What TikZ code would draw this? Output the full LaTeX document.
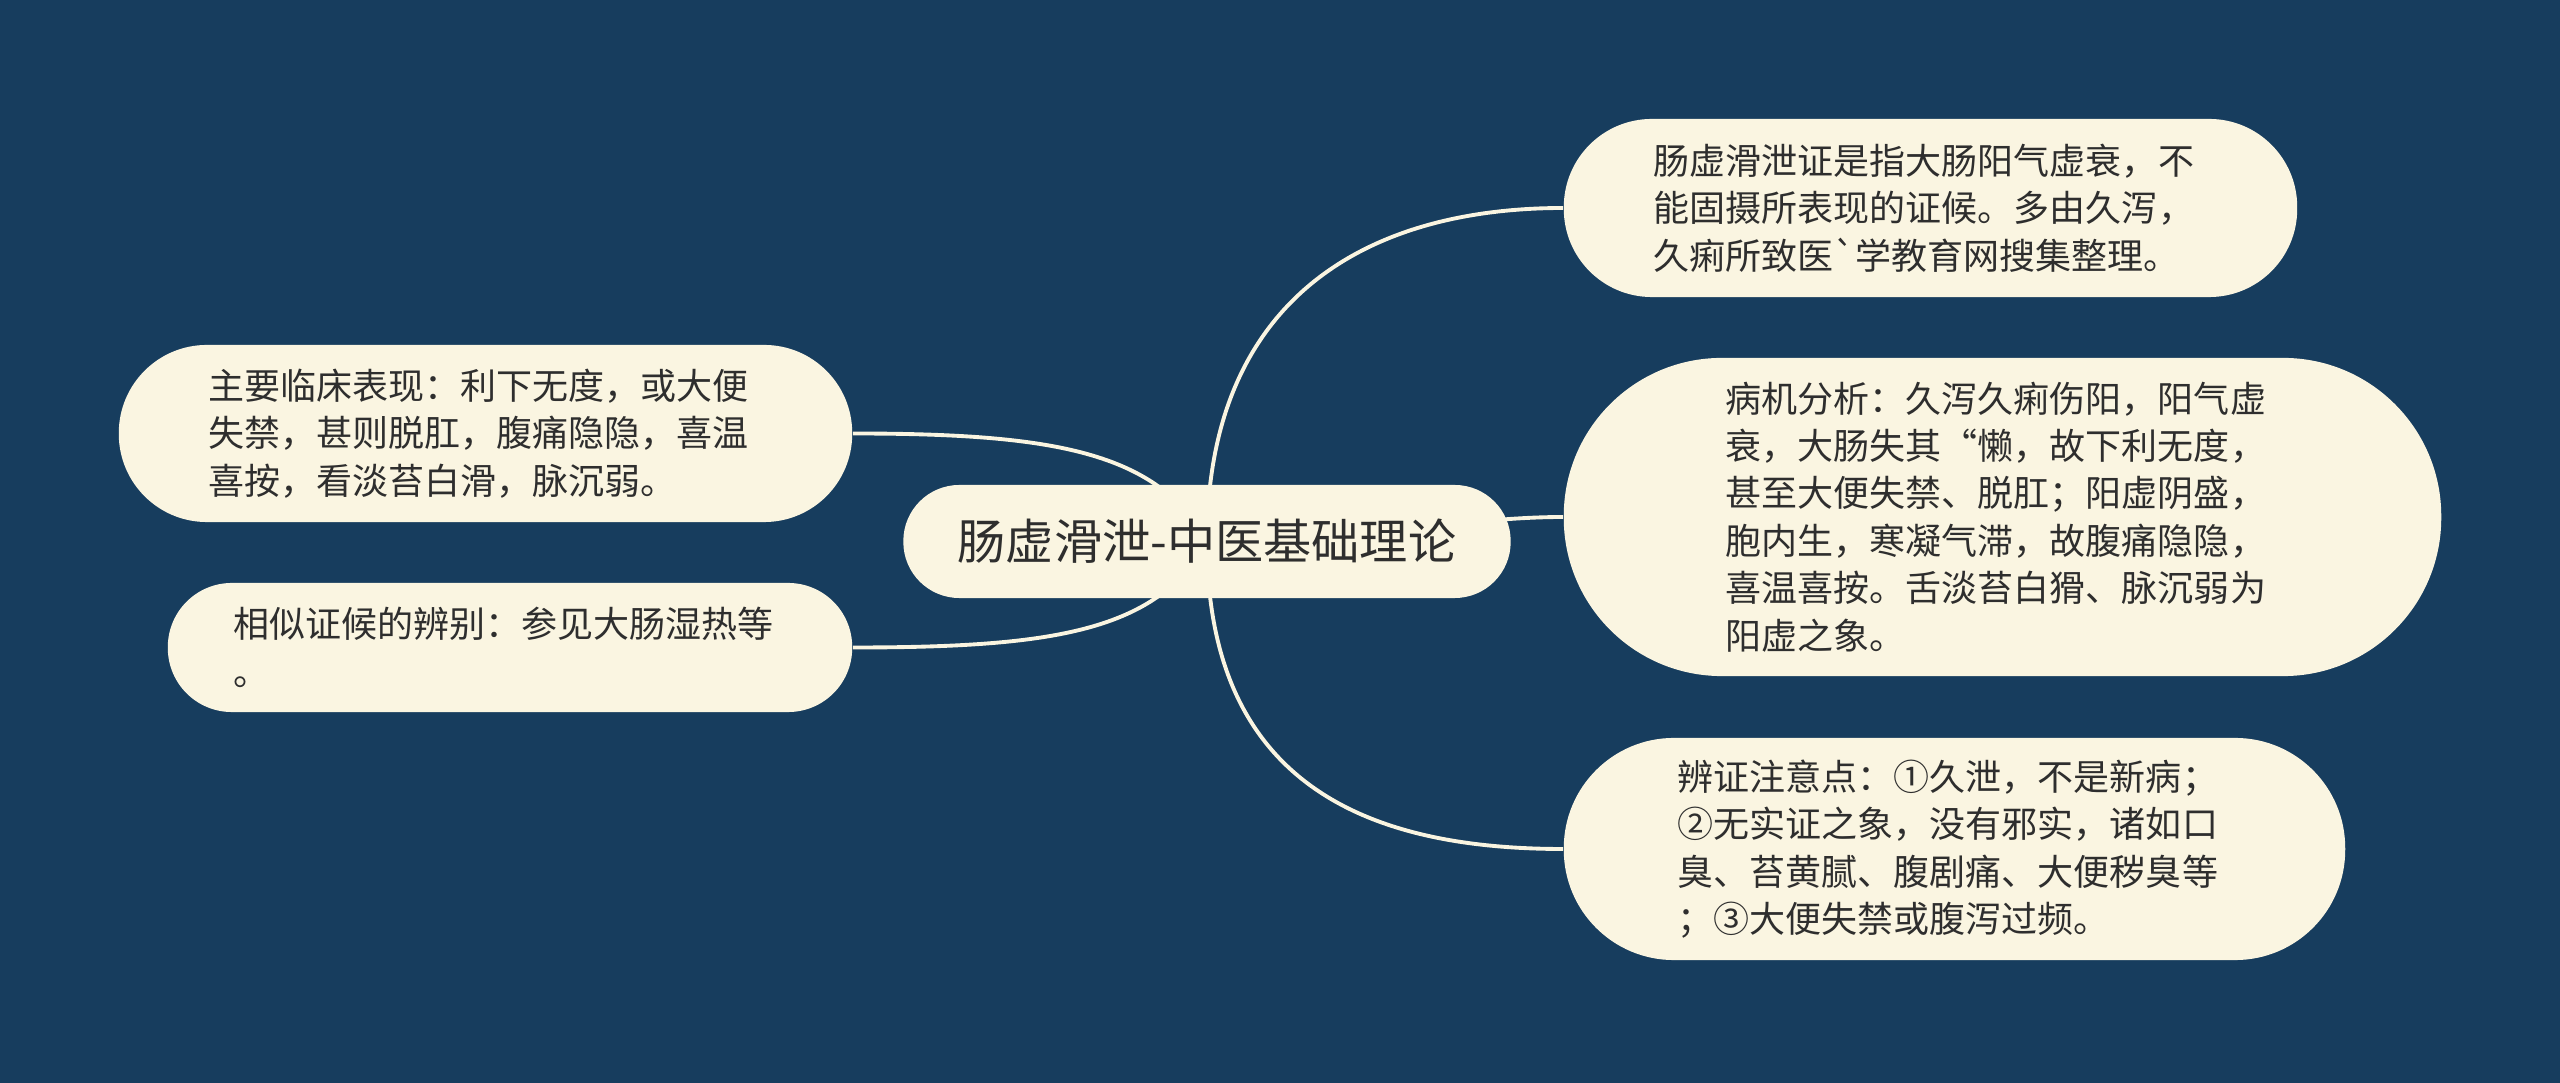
\documentclass[tikz,border=0pt]{standalone}
\usepackage{fontspec}
\newfontfamily\cjk{Noto Sans CJK SC}
\definecolor{bgblue}{HTML}{173D5E}
\definecolor{cream}{HTML}{FAF5E1}
\definecolor{ink}{HTML}{2E2E2E}
\tikzset{
  every picture/.style={line join=round, line cap=round},
  topic/.style={fill=cream, text=ink, inner sep=0pt, align=center, font=\cjk\fontsize{13.7pt}{16pt}\selectfont},
  leaf/.style={fill=cream, text=ink, inner sep=0pt, align=left, text width=5.53cm, font=\cjk\fontsize{10.24pt}{13.5pt}\selectfont},
  link/.style={draw=cream, line width=1.1pt},
}
\pgfdeclarelayer{bg}
\pgfsetlayers{bg,main}

\begin{document}
\begin{tikzpicture}[x=0.01cm,y=-0.01cm]
\useasboundingbox (0,0) rectangle (2560,1083);
\node[topic, minimum width=6.07cm, minimum height=1.13cm, rounded corners=0.56cm] (c) at (1207,541.5) {肠虚滑泄-中医基础理论};
\node[leaf, minimum width=7.33cm, minimum height=1.78cm, rounded corners=0.88cm] (r1) at (1930.5,208) {肠虚滑泄证是指大肠阳气虚衰，不\\能固摄所表现的证候。多由久泻，\\久痢所致医`学教育网搜集整理。};
\node[leaf, minimum width=8.77cm, minimum height=3.18cm, rounded corners=1.58cm] (r2) at (2002.5,517) {病机分析：久泻久痢伤阳，阳气虚\\衰，大肠失其“懒，故下利无度，\\甚至大便失禁、脱肛；阳虚阴盛，\\胞内生，寒凝气滞，故腹痛隐隐，\\喜温喜按。舌淡苔白猾、脉沉弱为\\阳虚之象。};
\node[leaf, minimum width=7.81cm, minimum height=2.22cm, rounded corners=1.1cm] (r3) at (1954.5,849) {辨证注意点：①久泄，不是新病；\\②无实证之象，没有邪实，诸如口\\臭、苔黄腻、腹剧痛、大便秽臭等\\；③大便失禁或腹泻过频。};
\node[leaf, minimum width=7.33cm, minimum height=1.77cm, rounded corners=0.88cm] (l1) at (485.5,433.5) {主要临床表现：利下无度，或大便\\失禁，甚则脱肛，腹痛隐隐，喜温\\喜按，看淡苔白滑，脉沉弱。};
\node[leaf, minimum width=6.84cm, minimum height=1.29cm, rounded corners=0.64cm] (l2) at (510,647.5) {相似证候的辨别：参见大肠湿热等\\。};
\begin{pgfonlayer}{bg}
\fill[bgblue] (0,0) rectangle (2560,1083);
\draw[link] (c.center) .. controls +(0,-240) and +(-200,0) .. (r1.west);
\draw[link] (c.center) .. controls +(150,0) and +(-100,0) .. (r2.west);
\draw[link] (c.center) .. controls +(0,240) and +(-200,0) .. (r3.west);
\draw[link] (l1.east) .. controls +(200,0) and +(-50,-90) .. (c.center);
\draw[link] (l2.east) .. controls +(200,0) and +(-50,90) .. (c.center);
\end{pgfonlayer}
\end{tikzpicture}
\end{document}
